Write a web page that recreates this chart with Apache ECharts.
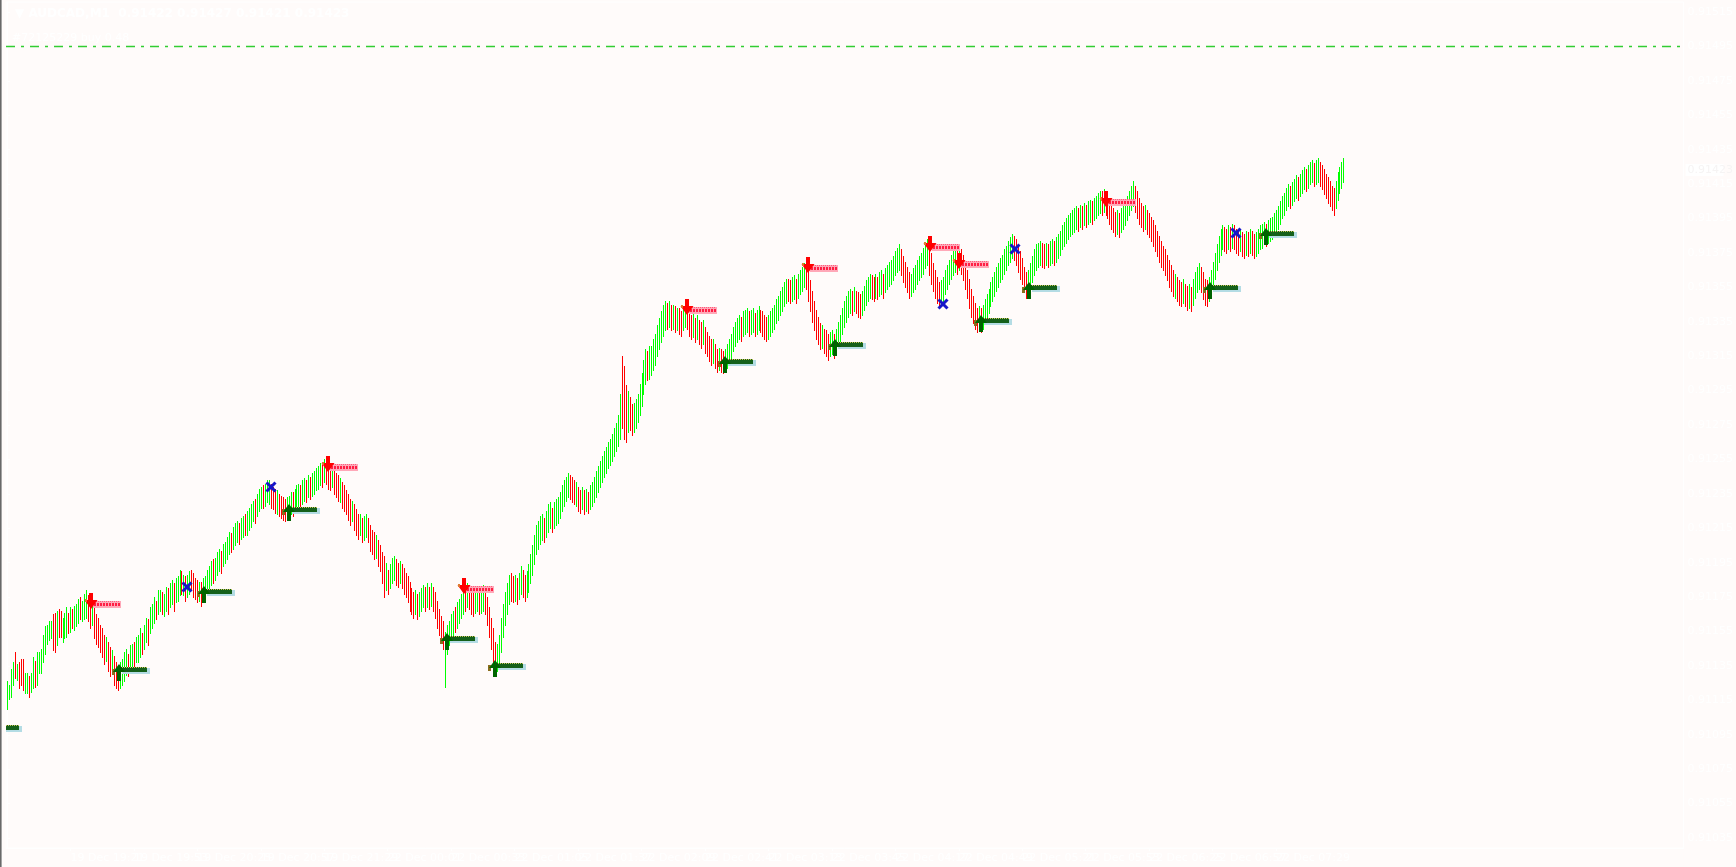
<!DOCTYPE html>
<html>
<head>
<meta charset="utf-8">
<title>AUDCAD,M1</title>
<script src="https://cdn.jsdelivr.net/npm/echarts@6/dist/echarts.min.js"></script>
<style>
html, body { margin: 0; padding: 0; background: #fffbfa; }
#chart { width: 1736px; height: 867px; }
</style>
</head>
<body>
<div id="chart"></div>
<script>
// prices are kept in points above 0.91000
const BASE = 0.91
const POINT = 0.00001

// M1 bars: [low, high, up(1)/down(0)]
const bars = [
  [110,126,1],[116,124,1],[117,133,1],[124,137,1],[128,143,0],[127,136,1],[122,137,0],[124,139,0],[121,139,0],[119,131,1],
  [119,131,1],[117,129,0],[120,131,1],[122,140,1],[123,138,0],[124,143,1],[131,143,1],[131,145,1],[137,153,1],[142,158,1],
  [148,159,1],[150,161,1],[151,161,1],[144,165,0],[143,166,0],[147,167,1],[152,168,0],[152,167,0],[149,163,1],[151,166,1],
  [152,169,1],[154,166,0],[155,169,1],[157,168,0],[156,170,1],[158,171,1],[160,174,1],[162,175,0],[161,173,1],[162,177,1],
  [163,179,1],[161,176,0],[157,175,0],[159,173,1],[151,169,0],[148,165,0],[146,163,0],[143,159,0],[140,157,0],[136,153,0],
  [138,152,1],[132,149,0],[129,146,0],[131,144,1],[124,141,0],[122,137,0],[121,134,0],[122,137,1],[124,139,1],[126,143,1],
  [130,145,1],[129,142,0],[132,147,1],[135,148,1],[133,149,0],[137,152,1],[137,153,1],[140,157,1],[142,154,0],[145,159,1],
  [149,163,1],[147,162,0],[154,169,1],[157,171,1],[160,175,1],[162,173,0],[165,179,1],[167,179,1],[165,178,0],[164,177,1],
  [167,181,1],[165,180,0],[169,183,1],[171,185,1],[167,183,0],[172,186,1],[173,187,1],[176,191,1],[177,190,0],[176,188,1],
  [173,187,0],[175,188,1],[177,190,1],[179,191,0],[175,189,0],[174,186,0],[172,185,0],[173,184,1],[170,184,0],[172,186,1],
  [175,187,1],[177,191,1],[180,193,1],[182,196,1],[183,197,0],[185,198,1],[188,201,1],[190,203,1],[189,202,0],[193,206,1],
  [195,207,1],[197,210,1],[200,213,1],[201,212,0],[203,216,1],[205,218,1],[207,219,1],[206,218,0],[209,221,1],[210,222,1],
  [211,223,0],[211,225,1],[214,227,1],[216,229,1],[219,231,1],[218,232,0],[222,235,1],[225,238,1],[227,239,1],[227,240,0],
  [228,241,1],[230,243,1],[229,243,1],[227,241,0],[226,239,0],[224,238,0],[223,237,1],[222,235,0],[221,234,0],[220,233,0],
  [219,232,0],[220,233,1],[221,234,1],[223,236,1],[222,236,0],[225,238,1],[226,240,1],[228,241,1],[227,240,0],[229,243,1],
  [231,244,1],[230,243,0],[233,246,1],[232,245,0],[234,247,1],[235,248,1],[237,250,1],[238,251,1],[240,253,1],[239,252,0],
  [242,255,1],[241,254,0],[238,253,0],[237,251,0],[239,252,1],[235,250,0],[233,247,0],[231,246,0],[230,244,1],[227,242,0],
  [225,240,0],[223,237,0],[220,235,0],[217,232,0],[219,231,1],[214,229,0],[211,226,0],[209,223,0],[211,223,1],[207,221,0],
  [208,222,1],[210,223,1],[207,221,0],[202,217,0],[200,214,0],[197,213,0],[198,211,1],[193,208,0],[190,205,0],[183,201,0],
  [175,199,0],[179,195,1],[177,191,0],[180,194,1],[183,198,1],[185,199,1],[182,197,0],[181,195,0],[183,196,1],[180,194,0],
  [177,192,0],[175,189,0],[172,187,0],[167,184,0],[165,180,0],[163,178,0],[165,179,1],[162,177,0],[164,178,1],[167,180,1],
  [169,182,1],[167,181,0],[169,183,1],[168,181,0],[170,183,1],[167,181,0],[163,178,0],[157,173,0],[153,168,0],[149,164,0],
  [145,161,0],[123,155,1],[142,159,1],[147,161,1],[150,165,1],[153,167,1],[155,169,0],[157,172,1],[160,174,1],[163,177,1],
  [165,179,1],[167,181,0],[169,183,1],[168,182,0],[165,180,0],[164,178,0],[166,179,1],[167,181,1],[165,179,0],[166,180,1],
  [167,182,1],[165,179,0],[159,175,0],[152,169,0],[145,163,0],[137,157,0],[129,149,0],[132,148,1],[135,153,1],[143,163,1],
  [152,171,1],[159,178,1],[165,183,1],[171,188,1],[173,189,0],[172,187,0],[173,188,1],[171,186,0],[174,189,1],[177,193,1],
  [175,191,0],[173,188,0],[175,190,1],[178,194,1],[183,200,1],[188,205,1],[194,211,1],[200,217,1],[203,219,1],[206,222,1],
  [208,223,1],[207,221,0],[210,225,1],[213,229,1],[215,230,1],[213,227,0],[215,230,1],[217,232,1],[218,233,1],[221,236,1],
  [225,240,1],[228,243,1],[231,245,1],[233,247,1],[232,246,0],[230,245,0],[229,243,0],[228,242,1],[225,239,0],[224,237,0],
  [226,239,1],[223,237,0],[225,238,1],[224,236,0],[226,240,1],[228,242,1],[230,245,1],[233,248,1],[236,251,1],[239,254,1],
  [242,257,1],[245,260,1],[247,262,1],[250,265,1],[252,267,1],[254,270,1],[257,273,1],[260,276,1],[263,281,1],[267,293,1],
  [273,315,0],[267,309,0],[265,298,0],[271,295,1],[272,291,0],[269,287,0],[271,288,1],[273,290,1],[277,293,1],[281,299,1],
  [286,305,1],[293,313,1],[299,319,1],[301,318,0],[302,321,1],[304,321,1],[307,325,1],[310,328,1],[315,333,1],[319,337,1],
  [323,341,1],[327,345,1],[330,347,1],[331,346,0],[332,347,1],[330,345,0],[331,345,1],[329,344,0],[330,343,1],[328,343,0],
  [327,341,0],[330,344,1],[332,346,1],[331,345,0],[327,342,0],[325,339,0],[326,340,1],[323,337,0],[325,339,1],[322,336,0],
  [320,335,0],[322,336,1],[317,332,0],[315,329,0],[312,327,0],[310,325,0],[311,325,1],[308,322,0],[306,319,0],[307,320,1],
  [306,319,0],[305,318,0],[306,319,1],[308,322,1],[311,325,1],[314,328,1],[318,332,1],[321,335,1],[323,337,1],[325,339,1],
  [324,338,0],[327,341,1],[328,342,1],[329,343,1],[327,341,0],[328,342,1],[329,343,1],[327,340,0],[328,342,1],[330,344,1],
  [329,342,0],[327,341,0],[325,339,0],[324,338,0],[325,339,1],[327,341,1],[329,343,1],[331,345,1],[334,348,1],[336,350,1],
  [339,353,1],[341,355,1],[344,358,1],[346,360,1],[347,360,0],[346,359,0],[347,361,1],[348,362,1],[346,360,0],[349,363,1],
  [351,365,1],[353,367,1],[355,369,1],[354,368,0],[347,365,0],[341,359,0],[335,353,0],[330,347,0],[325,342,0],[322,338,0],
  [319,334,0],[320,333,1],[317,331,0],[315,330,0],[313,328,0],[315,329,1],[316,330,1],[314,328,0],[317,331,1],[320,335,1],
  [324,339,1],[328,343,1],[332,347,1],[335,350,1],[338,353,1],[340,354,1],[339,353,0],[341,355,1],[340,353,0],[338,352,0],
  [337,351,0],[339,353,1],[342,356,1],[345,359,1],[347,361,1],[349,363,1],[348,362,0],[347,361,0],[349,363,1],[348,361,0],
  [350,364,1],[351,365,1],[349,363,0],[352,366,1],[354,368,1],[356,370,1],[357,371,1],[359,373,1],[362,376,1],[364,378,1],
  [365,380,1],[362,377,0],[358,373,0],[355,370,0],[352,367,0],[349,364,0],[350,363,1],[352,366,1],[354,368,1],[357,371,1],
  [359,373,1],[361,375,1],[363,378,1],[366,381,1],[368,383,1],[362,380,0],[357,375,0],[353,369,0],[349,365,0],[346,361,0],
  [343,358,0],[345,359,1],[347,361,1],[351,365,1],[354,368,1],[357,371,1],[360,374,1],[362,376,1],[364,378,1],[363,377,0],
  [365,379,1],[363,377,0],[359,374,0],[354,370,0],[349,365,0],[343,360,0],[338,354,0],[334,350,0],[331,346,0],[329,343,0],
  [330,344,1],[329,343,0],[331,345,1],[334,348,1],[337,351,1],[340,354,1],[344,358,1],[347,361,1],[350,364,1],[353,367,1],
  [355,369,1],[358,372,1],[360,374,1],[363,377,1],[365,379,1],[368,382,1],[370,384,1],[372,386,1],[371,385,0],[368,383,0],
  [364,380,0],[360,376,0],[357,372,0],[352,367,0],[349,364,0],[351,365,1],[354,369,1],[358,373,1],[362,377,1],[365,380,1],
  [367,381,1],[368,382,1],[367,381,0],[366,380,0],[368,381,1],[367,380,0],[368,382,1],[369,383,1],[368,382,0],[370,384,1],
  [372,386,1],[374,388,1],[377,391,1],[379,393,1],[381,395,1],[383,397,1],[385,398,1],[386,400,1],[387,401,1],[389,402,1],
  [388,401,0],[390,403,1],[389,402,0],[391,404,1],[390,403,0],[392,405,1],[393,406,1],[392,405,0],[394,407,1],[395,408,1],
  [397,410,1],[398,411,1],[397,411,0],[399,412,1],[397,411,0],[395,409,0],[392,407,0],[389,404,0],[387,401,0],[385,399,0],
  [386,400,1],[384,398,0],[387,401,1],[389,403,1],[391,405,1],[394,408,1],[397,411,1],[400,414,1],[402,417,1],[399,414,0],
  [395,411,0],[392,407,0],[390,404,0],[388,402,0],[389,403,1],[386,400,0],[384,398,0],[382,396,0],[379,394,0],[376,391,0],
  [373,388,0],[370,385,0],[367,382,0],[365,379,0],[362,377,0],[359,374,0],[355,371,0],[353,368,0],[350,365,0],[349,363,1],
  [347,361,0],[345,359,0],[344,358,0],[346,360,1],[344,357,0],[342,356,0],[343,357,1],[341,355,0],[345,360,1],[349,364,1],
  [352,367,1],[354,369,1],[352,367,0],[348,364,0],[345,360,0],[344,359,0],[347,361,1],[351,365,1],[355,370,1],[360,375,1],
  [365,380,1],[370,385,1],[374,389,1],[377,391,1],[376,390,0],[375,389,0],[377,391,1],[376,390,0],[378,392,1],[377,391,0],
  [375,389,0],[374,388,0],[376,389,1],[373,387,0],[372,386,0],[374,388,1],[373,387,0],[375,389,1],[374,388,0],[372,386,0],
  [373,387,1],[375,389,1],[377,391,1],[378,392,1],[380,393,1],[379,392,0],[381,394,1],[382,395,1],[383,396,1],[385,398,1],
  [387,400,1],[389,402,1],[392,405,1],[395,408,1],[397,410,1],[400,413,1],[402,415,1],[401,414,0],[403,416,1],[405,418,1],
  [407,420,1],[406,419,0],[408,421,1],[410,423,1],[412,425,1],[411,424,0],[413,426,1],[415,428,1],[416,429,1],[414,427,0],
  [415,429,1],[416,430,1],[414,428,0],[412,426,0],[409,424,0],[407,421,0],[404,419,0],[402,417,0],[400,414,0],[397,413,0],
  [401,417,1],[406,422,1],[410,425,1],[413,428,1],[416,430,1]
]

// trade marks: [bar index, price in points]
const buyArrows = [[-8,99.2],[56.5,132.6],[99.5,178],[142,225.6],[222,150.8],[246,134.7],[362.3,311.6],[417.5,321.3],[491,335.7],[515.5,354.6],[606.5,354.6],[635,385.7]]
const sellArrows = [[42.5,170.7],[162,250.6],[230.5,179.7],[343,341.8],[403.8,366.2],[465.5,378.4],[480,368.3],[554,404.3]]
const closeMarks = [[90.75,180.9],[133,239],[472,345.3],[508.5,377.3],[620,386.3]]

const priceTicks = [0.91035,0.91055,0.91075,0.91095,0.91115,0.91135,0.91155,0.91175,0.91195,0.91215,0.91235,0.91255,0.91275,0.91295,0.91315,0.91335,0.91355,0.91375,0.91395,0.91415,0.91435,0.91455,0.91475,0.91495,0.91515]
const timeLabels = ['19 Dec 2025','19 Dec 19:21','19 Dec 19:53','19 Dec 20:25','19 Dec 20:57','19 Dec 21:29','22 Dec 00:01','22 Dec 00:33','22 Dec 01:05','22 Dec 01:37','22 Dec 02:09','22 Dec 02:41','22 Dec 03:13','22 Dec 03:45','22 Dec 04:17','22 Dec 04:49','22 Dec 05:21','22 Dec 05:53','22 Dec 06:25','22 Dec 06:57','22 Dec 07:29','22 Dec 08:01']
const barsPerLabel = 32

const buyLine = 0.91495
const lastPrice = 0.91423
const chartTitle = '▼ AUDCAD,M1  0.91422 0.91427 0.91421 0.91423'
const orderLabel = '#72125229 buy 0.48'

const toPrice = p => BASE + p * POINT
const timeTicks = timeLabels.map((_, k) => k * barsPerLabel)

const chart = echarts.init(document.getElementById('chart'))

function renderBar(params, api) {
  const lo = api.coord([api.value(0), api.value(1)])
  const hi = api.coord([api.value(0), api.value(2)])
  const x = Math.round(lo[0]) + 0.5
  return {
    type: 'line',
    shape: { x1: x, y1: Math.round(lo[1]) + 1, x2: x, y2: Math.round(hi[1]) },
    style: { stroke: api.value(3) ? '#00ff00' : '#ff0000', lineWidth: 1 }
  }
}

function renderSell(params, api) {
  const c = api.coord([api.value(0), api.value(1)])
  const x = Math.round(c[0]), y = Math.round(c[1])
  return {
    type: 'group',
    children: [
      { type: 'rect', shape: { x: x + 2, y: y - 3, width: 28, height: 7 }, style: { fill: '#ffa8b8' } },
      { type: 'line', shape: { x1: x + 3, y1: y + 0.5, x2: x + 29, y2: y + 0.5 }, style: { stroke: '#ff1f44', lineWidth: 3, lineDash: [2, 1] } },
      { type: 'line', shape: { x1: x + 3, y1: y - 2.5, x2: x + 29, y2: y - 2.5 }, style: { stroke: '#ff5d7c', lineWidth: 1, lineDash: [1, 1] } },
      {
        type: 'polygon',
        shape: { points: [[x - 2, y - 11], [x + 2, y - 11], [x + 2, y - 4], [x + 6.5, y - 4], [x, y + 5], [x - 6.5, y - 4], [x - 2, y - 4]] },
        style: { fill: '#ff0000' }
      },
      { type: 'rect', shape: { x: x - 6, y: y - 5, width: 2, height: 3 }, style: { fill: '#e07a30' } }
    ]
  }
}

function renderBuy(params, api) {
  const c = api.coord([api.value(0), api.value(1)])
  const x = Math.round(c[0]), y = Math.round(c[1])
  return {
    type: 'group',
    children: [
      { type: 'rect', shape: { x: x + 3, y: y - 2, width: 28, height: 6 }, style: { fill: '#b4dce4' } },
      { type: 'rect', shape: { x: x + 2, y: y - 3, width: 26, height: 5 }, style: { fill: '#15601a' } },
      { type: 'line', shape: { x1: x + 3, y1: y - 2.5, x2: x + 28, y2: y - 2.5 }, style: { stroke: '#c9c35a', lineWidth: 1, lineDash: [1, 1] } },
      { type: 'rect', shape: { x: x - 7, y: y - 1, width: 3, height: 6 }, style: { fill: '#8a6d1c' } },
      {
        type: 'polygon',
        shape: { points: [[x, y - 6], [x + 6, y + 2], [x + 2, y + 2], [x + 2, y + 11], [x - 2, y + 11], [x - 2, y + 2], [x - 6, y + 2]] },
        style: { fill: '#006400' }
      }
    ]
  }
}

function renderCross(params, api) {
  const c = api.coord([api.value(0), api.value(1)])
  const x = Math.round(c[0]), y = Math.round(c[1])
  const st = { stroke: '#1616c8', lineWidth: 3 }
  return {
    type: 'group',
    children: [
      { type: 'line', shape: { x1: x - 4.5, y1: y - 4.5, x2: x + 4.5, y2: y + 4.5 }, style: st },
      { type: 'line', shape: { x1: x - 4.5, y1: y + 4.5, x2: x + 4.5, y2: y - 4.5 }, style: st }
    ]
  }
}

// order level line across the plot with its label
function renderOrderLine(params, api) {
  const cs = params.coordSys
  const y = Math.round(api.coord([0, api.value(1)])[1]) + 0.5
  return {
    type: 'group',
    children: [
      { type: 'line', shape: { x1: cs.x, y1: y, x2: cs.x + cs.width, y2: y }, style: { stroke: '#32cd32', lineWidth: 1.5, lineDash: [9, 6, 3, 6] } },
      { type: 'text', style: { text: orderLabel, x: cs.x + 6, y: y - 3, fill: '#ffffff', font: '11px "DejaVu Sans"', align: 'left', verticalAlign: 'bottom' } }
    ]
  }
}

// current price box on the price scale
function renderPriceBox(params, api) {
  const cs = params.coordSys
  const y = Math.round(api.coord([0, api.value(1)])[1])
  const x = cs.x + cs.width + 2
  return {
    type: 'group',
    children: [
      { type: 'rect', shape: { x: x, y: y - 6, width: 38, height: 12 }, style: { fill: '#ffffff' } },
      { type: 'text', style: { text: api.value(1).toFixed(5), x: x + 2, y: y, fill: '#f6f4f4', font: '11px "DejaVu Sans"', align: 'left', verticalAlign: 'middle' } }
    ]
  }
}

const labelFont = { color: '#ffffff', fontSize: 11, fontFamily: 'DejaVu Sans' }

chart.setOption({
  backgroundColor: '#fffbfa',
  animation: false,
  title: {
    text: chartTitle,
    left: 10,
    top: 3,
    textStyle: { color: '#ffffff', fontSize: 12, fontWeight: 'bold', fontFamily: 'DejaVu Sans' }
  },
  grid: { left: 6, right: 38, top: 2, bottom: 19, show: true, borderColor: '#ffffff', borderWidth: 1 },
  xAxis: {
    type: 'value',
    min: -0.5,
    max: 845.5,
    axisLine: { show: true, lineStyle: { color: '#ffffff' } },
    axisTick: { show: true, customValues: timeTicks, length: 3, lineStyle: { color: '#ffffff' } },
    axisLabel: Object.assign({
      customValues: timeTicks,
      align: 'left',
      margin: 5,
      formatter: v => timeLabels[Math.round(v / barsPerLabel)] || ''
    }, labelFont),
    splitLine: { show: false }
  },
  yAxis: {
    type: 'value',
    position: 'right',
    min: 0.910292,
    max: 0.915208,
    axisLine: { show: true, lineStyle: { color: '#ffffff' } },
    axisTick: { show: true, customValues: priceTicks, length: 3, lineStyle: { color: '#ffffff' } },
    axisLabel: Object.assign({
      customValues: priceTicks,
      margin: 4,
      formatter: v => v.toFixed(5)
    }, labelFont),
    splitLine: { show: false }
  },
  graphic: [
    { type: 'rect', shape: { x: 0, y: 0, width: 1, height: 867 }, style: { fill: '#696969' }, z: 100 },
    { type: 'rect', shape: { x: 1, y: 0, width: 1, height: 867 }, style: { fill: '#a4a4a4' }, z: 100 }
  ],
  series: [
    {
      type: 'custom',
      name: 'bars',
      renderItem: renderBar,
      clip: true,
      encode: { x: 0, y: [1, 2] },
      data: bars.map((b, i) => [i, toPrice(b[0]), toPrice(b[1]), b[2]])
    },
    {
      type: 'custom',
      name: 'order',
      renderItem: renderOrderLine,
      clip: false,
      z: 3,
      data: [[0, buyLine]]
    },
    {
      type: 'custom',
      name: 'price',
      renderItem: renderPriceBox,
      clip: false,
      z: 3,
      data: [[bars.length - 1, lastPrice]]
    },
    {
      type: 'custom',
      name: 'buy',
      renderItem: renderBuy,
      clip: true,
      z: 4,
      data: buyArrows.map(d => [d[0], toPrice(d[1])])
    },
    {
      type: 'custom',
      name: 'sell',
      renderItem: renderSell,
      clip: true,
      z: 4,
      data: sellArrows.map(d => [d[0], toPrice(d[1])])
    },
    {
      type: 'custom',
      name: 'close',
      renderItem: renderCross,
      clip: true,
      z: 4,
      data: closeMarks.map(d => [d[0], toPrice(d[1])])
    }
  ]
})
</script>
</body>
</html>
